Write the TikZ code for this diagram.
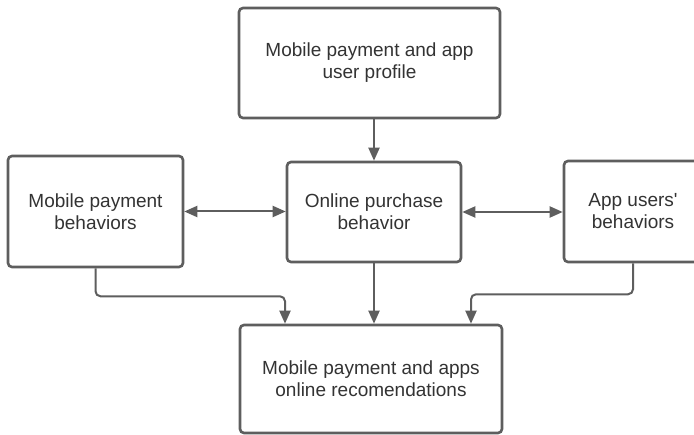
\documentclass[tikz,border=0pt]{standalone}
\usepackage{fontspec}
\setmainfont{Liberation Sans}
\usetikzlibrary{arrows.meta,calc}
\definecolor{lineg}{HTML}{5E5E5E}
\definecolor{textg}{HTML}{333333}
\tikzset{
  boxnode/.style={draw=lineg, line width=2.6pt, rounded corners=4pt, align=center,
    text=textg, font=\fontsize{19}{22}\selectfont, inner sep=0pt},
  conn/.style={draw=lineg, line width=2pt, rounded corners=5pt,
    -{Triangle[length=13pt,width=11pt]}},
  dconn/.style={draw=lineg, line width=2pt,
    {Triangle[length=13pt,width=11pt]}-{Triangle[length=13pt,width=11pt]}}
}
\begin{document}
\begin{tikzpicture}[x=1pt,y=-1pt]
\clip (0,0) rectangle (694,435);
\fill[white] (0,0) rectangle (694,435);
\node[boxnode, minimum width=261pt, minimum height=110pt] (top) at (369.5,63) {Mobile payment and app\\user profile};
\node[boxnode, minimum width=175pt, minimum height=111pt] (lft) at (95.5,211.5) {Mobile payment\\behaviors};
\node[boxnode, minimum width=174pt, minimum height=100pt] (ctr) at (374,212) {Online purchase\\behavior};
\node[boxnode, minimum width=138pt, minimum height=101pt] (rgt) at (633,211.5) {App users\textquotesingle\\behaviors};
\node[boxnode, minimum width=262pt, minimum height=108pt] (bot) at (371,379) {Mobile payment and apps\\online recomendations};
\coordinate (bl) at ($(bot.north)+(-86,0)$);
\coordinate (br) at ($(bot.north)+(100,0)$);
\draw[conn] (top.south -| ctr.north) -- (ctr.north);
\draw[dconn] (lft.east) -- (lft.east -| ctr.west);
\draw[dconn] (ctr.east) -- (ctr.east -| rgt.west);
\draw[conn] (lft.south) -- ++(0,28) -| (bl);
\draw[conn] (ctr.south) -- (ctr.south |- bot.north);
\draw[conn] (rgt.south) -- ++(0,31) -| (br);
\end{tikzpicture}
\end{document}
